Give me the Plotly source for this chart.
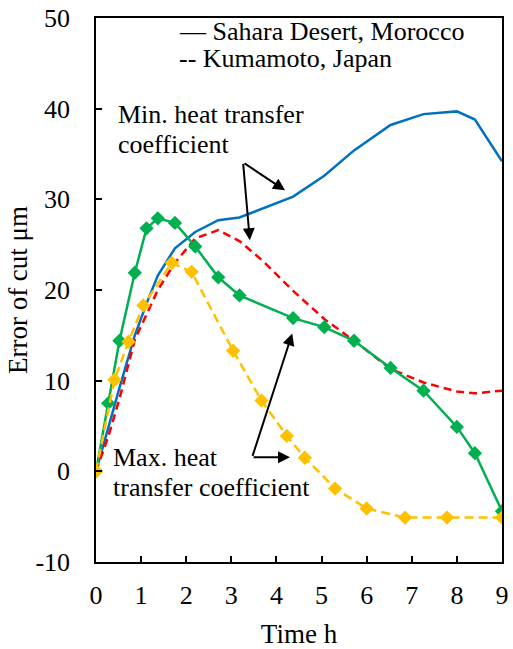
import plotly.graph_objects as go

# ---- data ----
time_h = [0, 0.27, 0.52, 0.86, 1.12, 1.37, 1.75, 2.2, 2.71, 3.18, 3.7, 4.37, 5.06, 5.72, 6.53, 7.26, 8.0, 8.4, 9.0]
sahara_min = [0, 4.9, 9.2, 15.0, 18.5, 21.6, 24.6, 26.4, 27.7, 28.0, 29.0, 30.3, 32.6, 35.4, 38.2, 39.4, 39.7, 38.8, 34.2]
kumamoto_min = [0, 3.8, 8.0, 14.5, 17.3, 20.0, 23.0, 25.7, 26.6, 25.4, 23.2, 19.9, 16.8, 14.4, 11.3, 9.8, 8.8, 8.6, 8.9]

sahara_max_t = [0, 0.27, 0.52, 0.86, 1.12, 1.37, 1.75, 2.2, 2.71, 3.18, 4.37, 5.06, 5.72, 6.53, 7.26, 8.0, 8.4, 9.0]
sahara_max = [0, 7.5, 14.4, 21.9, 26.8, 27.9, 27.4, 24.8, 21.4, 19.4, 16.9, 15.9, 14.4, 11.4, 8.9, 4.9, 2.0, -4.4]

kumamoto_max_t = [0, 0.41, 0.72, 1.05, 1.68, 2.12, 3.04, 3.67, 4.23, 4.63, 5.3, 6.0, 6.85, 7.78, 9.0]
kumamoto_max = [0, 10.1, 14.3, 18.3, 23.0, 22.0, 13.3, 7.8, 3.9, 1.5, -1.9, -4.1, -5.1, -5.1, -5.1]

x_ticks = [0, 1, 2, 3, 4, 5, 6, 7, 8, 9]
x_tick_labels = ["0", "1", "2", "3", "4", "5", "6", "7", "8", "9"]
y_ticks = [-10, 0, 10, 20, 30, 40, 50]
y_tick_labels = ["-10", "0", "10", "20", "30", "40", "50"]

legend_lines = ["— Sahara Desert, Morocco", "-- Kumamoto, Japan"]
min_label = ["Min. heat transfer", "coefficient"]
max_label = ["Max. heat", "transfer coefficient"]

FONT = "Liberation Serif"
F = dict(family=FONT, size=26, color="black")
FT = dict(family=FONT, size=27, color="black")

fig = go.Figure()
fig.add_trace(go.Scatter(x=time_h, y=sahara_min, mode="lines",
                         line=dict(color="#0070C0", width=2.5), name="Sahara min"))
fig.add_trace(go.Scatter(x=time_h, y=kumamoto_min, mode="lines",
                         line=dict(color="#FF0000", width=2.5, dash="8px,5px"), name="Kumamoto min"))
fig.add_trace(go.Scatter(x=sahara_max_t, y=sahara_max, mode="lines+markers",
                         line=dict(color="#00B050", width=2.5),
                         marker=dict(symbol="diamond", size=11, color="#00B050"), name="Sahara max"))
fig.add_trace(go.Scatter(x=kumamoto_max_t, y=kumamoto_max, mode="lines+markers",
                         line=dict(color="#FFC000", width=2.5, dash="9px,5px"),
                         marker=dict(symbol="diamond", size=11, color="#FFC000"), name="Kumamoto max"))
# empty trace that carries the inside tick marks
fig.add_trace(go.Scatter(x=[], y=[], xaxis="x2", yaxis="y2", showlegend=False, hoverinfo="skip"))

ann = []
def line_ann(x, y, text):
    ann.append(dict(x=x, y=y, xref="x", yref="y", text=text, showarrow=False,
                    xanchor="left", yanchor="middle", font=F))

line_ann(1.796, 48.46, legend_lines[0])
line_ann(1.796, 45.48, legend_lines[1])
line_ann(0.443, 39.41, min_label[0])
line_ann(0.443, 36.10, min_label[1])
line_ann(0.333, 1.50, max_label[0])
line_ann(0.333, -1.81, max_label[1])

arrows = [((3.26, 34.07), (4.19, 31.0)), ((3.26, 34.07), (3.41, 25.5)),
          ((3.46, 1.54), (4.30, 1.54)), ((3.46, 1.54), (4.35, 15.2))]
for (tx, ty), (hx, hy) in arrows:
    ann.append(dict(x=hx, y=hy, ax=tx, ay=ty, xref="x", yref="y", axref="x", ayref="y",
                    text="", showarrow=True, arrowhead=2, arrowsize=1.2, arrowwidth=2,
                    arrowcolor="black"))

fig.update_layout(
    width=513, height=649,
    margin=dict(l=96, r=11, t=18, b=87, autoexpand=False),
    paper_bgcolor="white", plot_bgcolor="white",
    font=F,
    showlegend=False,
    annotations=ann,
    xaxis=dict(range=[0, 9], tickvals=x_ticks, ticktext=x_tick_labels,
               ticks="outside", ticklen=9, tickcolor="rgba(0,0,0,0)", tickfont=F,
               showline=True, linecolor="black", linewidth=1.5, mirror=True,
               showgrid=False, zeroline=False, automargin=False,
               title=dict(text="Time h", standoff=20, font=FT)),
    yaxis=dict(range=[-10, 50], tickvals=y_ticks, ticktext=y_tick_labels,
               ticks="outside", ticklen=19, tickcolor="rgba(0,0,0,0)", tickfont=F,
               showline=True, linecolor="black", linewidth=1.5, mirror=True,
               showgrid=False, zeroline=False, automargin=False,
               title=dict(text="Error of cut μm", standoff=0, font=FT)),
    xaxis2=dict(range=[0, 9], tickvals=x_ticks, overlaying="x", anchor="y2", side="bottom",
                ticks="inside", ticklen=6, tickwidth=1.5, tickcolor="black",
                showticklabels=False, showline=False, showgrid=False, zeroline=False),
    yaxis2=dict(range=[-10, 50], tickvals=y_ticks, overlaying="y", anchor="x2", side="left",
                ticks="inside", ticklen=6, tickwidth=1.5, tickcolor="black",
                showticklabels=False, showline=False, showgrid=False, zeroline=False),
)

fig.write_html("out.html", config={"displayModeBar": False},
               post_script="document.body.style.margin='0';")
